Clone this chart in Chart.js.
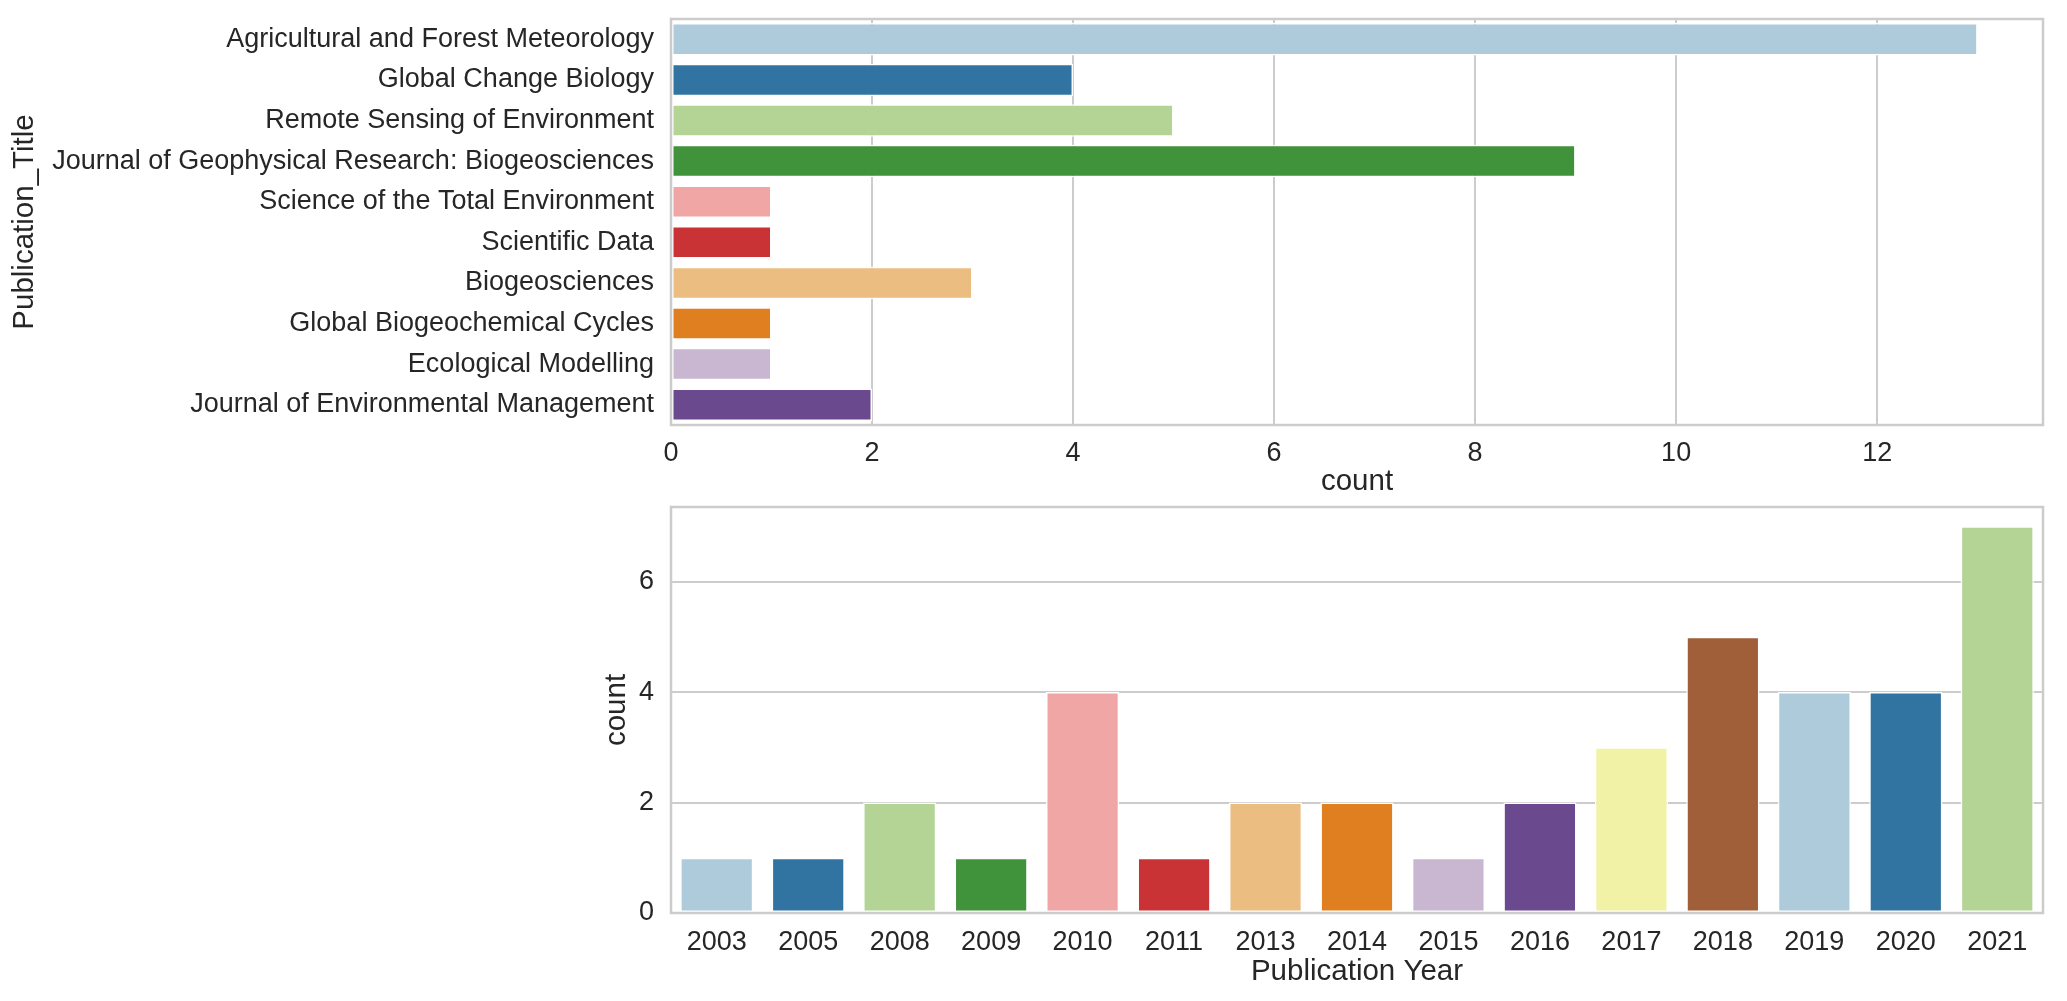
<!DOCTYPE html>
<html>
<head>
<meta charset="utf-8">
<title>Publications</title>
<script src="https://cdn.jsdelivr.net/npm/chart.js@4.4.1/dist/chart.umd.min.js"></script>
<style>
    body { margin: 0; background: #ffffff; }
    #page { position: relative; width: 2067px; height: 1001px; }
    .panel { position: absolute; left: 0; width: 2067px; }
    #titlePanel { top: 0; height: 500px; }
    #yearPanel { top: 500px; height: 501px; }
</style>
</head>
<body>
<div id="page">
    <div class="panel" id="titlePanel"><canvas id="titleChart"></canvas></div>
    <div class="panel" id="yearPanel"><canvas id="yearChart"></canvas></div>
</div>
<script>
// Publications per journal
const journalTitles = [
    'Agricultural and Forest Meteorology',
    'Global Change Biology',
    'Remote Sensing of Environment',
    'Journal of Geophysical Research: Biogeosciences',
    'Science of the Total Environment',
    'Scientific Data',
    'Biogeosciences',
    'Global Biogeochemical Cycles',
    'Ecological Modelling',
    'Journal of Environmental Management'
];
const journalCounts = [13, 4, 5, 9, 1, 1, 3, 1, 1, 2];

// Publications per year
const years = ['2003', '2005', '2008', '2009', '2010', '2011', '2013', '2014',
               '2015', '2016', '2017', '2018', '2019', '2020', '2021'];
const yearCounts = [1, 1, 2, 1, 4, 1, 2, 2, 1, 2, 3, 5, 4, 4, 7];

// "Paired" palette, desaturated like seaborn bars
const paired = ['#aecbdb', '#3274a1', '#b3d495', '#40923b', '#efa6a5', '#ca3335',
                '#ebbd81', '#df7f20', '#c9b7d2', '#6a498e', '#f2f2a6', '#a05e39'];

// Axis limits and tick step
const countMax = 13.65;
const yearCountMax = 7.35;
const tickStep = 2;

const textColor = '#262626';
const gridColor = '#cccccc';
const tickFont = { family: 'Liberation Sans, Arial, sans-serif', size: 27 };
const titleFont = { family: 'Liberation Sans, Arial, sans-serif', size: 29.5 };

// Light gray frame around the plot area (seaborn whitegrid spines)
const framePlugin = {
    id: 'frame',
    afterDatasetsDraw(chart) {
        const { ctx, chartArea: a } = chart;
        ctx.save();
        ctx.strokeStyle = gridColor;
        ctx.lineWidth = 2.5;
        ctx.strokeRect(a.left, a.top, a.right - a.left, a.bottom - a.top);
        ctx.restore();
    }
};

function barColors(values) {
    return values.map((v, i) => paired[i % paired.length]);
}

// Fixed axis width, no extra room for half tick labels
function fixWidth(width) {
    return function(scale) {
        scale.width = width;
        scale.paddingTop = 0;
        scale.paddingBottom = 0;
    };
}

// Top panel: horizontal bars by journal
new Chart(document.getElementById('titleChart'), {
    type: 'bar',
    data: {
        labels: journalTitles,
        datasets: [{
            data: journalCounts,
            backgroundColor: barColors(journalCounts),
            borderColor: '#ffffff',
            borderWidth: 1.5,
            borderSkipped: false,
            barPercentage: 0.8,
            categoryPercentage: 1
        }]
    },
    options: {
        indexAxis: 'y',
        responsive: true,
        maintainAspectRatio: false,
        animation: false,
        layout: { padding: { top: 19, right: 24, left: 0, bottom: 0 } },
        plugins: { legend: { display: false }, tooltip: { enabled: false } },
        scales: {
            x: {
                min: 0,
                max: countMax,
                afterFit: function(scale) { scale.height = 75; },
                grid: { color: gridColor, lineWidth: 2, drawTicks: false },
                border: { display: false },
                ticks: { stepSize: tickStep, includeBounds: false, padding: 12, color: textColor, font: tickFont },
                title: { display: true, text: 'count', color: textColor, font: titleFont, padding: { top: 0, bottom: 0 } }
            },
            y: {
                afterFit: fixWidth(671),
                grid: { display: false, drawTicks: false },
                border: { display: false },
                ticks: { padding: 17, autoSkip: false, color: textColor, font: tickFont },
                title: { display: true, text: 'Publication_Title', color: textColor, font: titleFont, padding: { top: 7, bottom: 0 } }
            }
        }
    },
    plugins: [framePlugin]
});

// Bottom panel: vertical bars by year
new Chart(document.getElementById('yearChart'), {
    type: 'bar',
    data: {
        labels: years,
        datasets: [{
            data: yearCounts,
            backgroundColor: barColors(yearCounts),
            borderColor: '#ffffff',
            borderWidth: 1.5,
            borderSkipped: false,
            barPercentage: 0.8,
            categoryPercentage: 1
        }]
    },
    options: {
        responsive: true,
        maintainAspectRatio: false,
        animation: false,
        layout: { padding: { top: 7, right: 24, left: 599, bottom: 0 } },
        plugins: { legend: { display: false }, tooltip: { enabled: false } },
        scales: {
            x: {
                afterFit: function(scale) { scale.height = 88; },
                grid: { display: false, drawTicks: false },
                border: { display: false },
                ticks: { padding: 13, autoSkip: false, maxRotation: 0, color: textColor, font: tickFont },
                title: { display: true, text: 'Publication Year', color: textColor, font: titleFont, padding: { top: 0, bottom: 11 } }
            },
            y: {
                min: 0,
                max: yearCountMax,
                afterFit: fixWidth(72),
                grid: { color: gridColor, lineWidth: 2, drawTicks: false },
                border: { display: false },
                ticks: { stepSize: tickStep, includeBounds: false, padding: 17, color: textColor, font: tickFont },
                title: { display: true, text: 'count', color: textColor, font: titleFont, padding: { top: 0, bottom: 0 } }
            }
        }
    },
    plugins: [framePlugin]
});
</script>
</body>
</html>
